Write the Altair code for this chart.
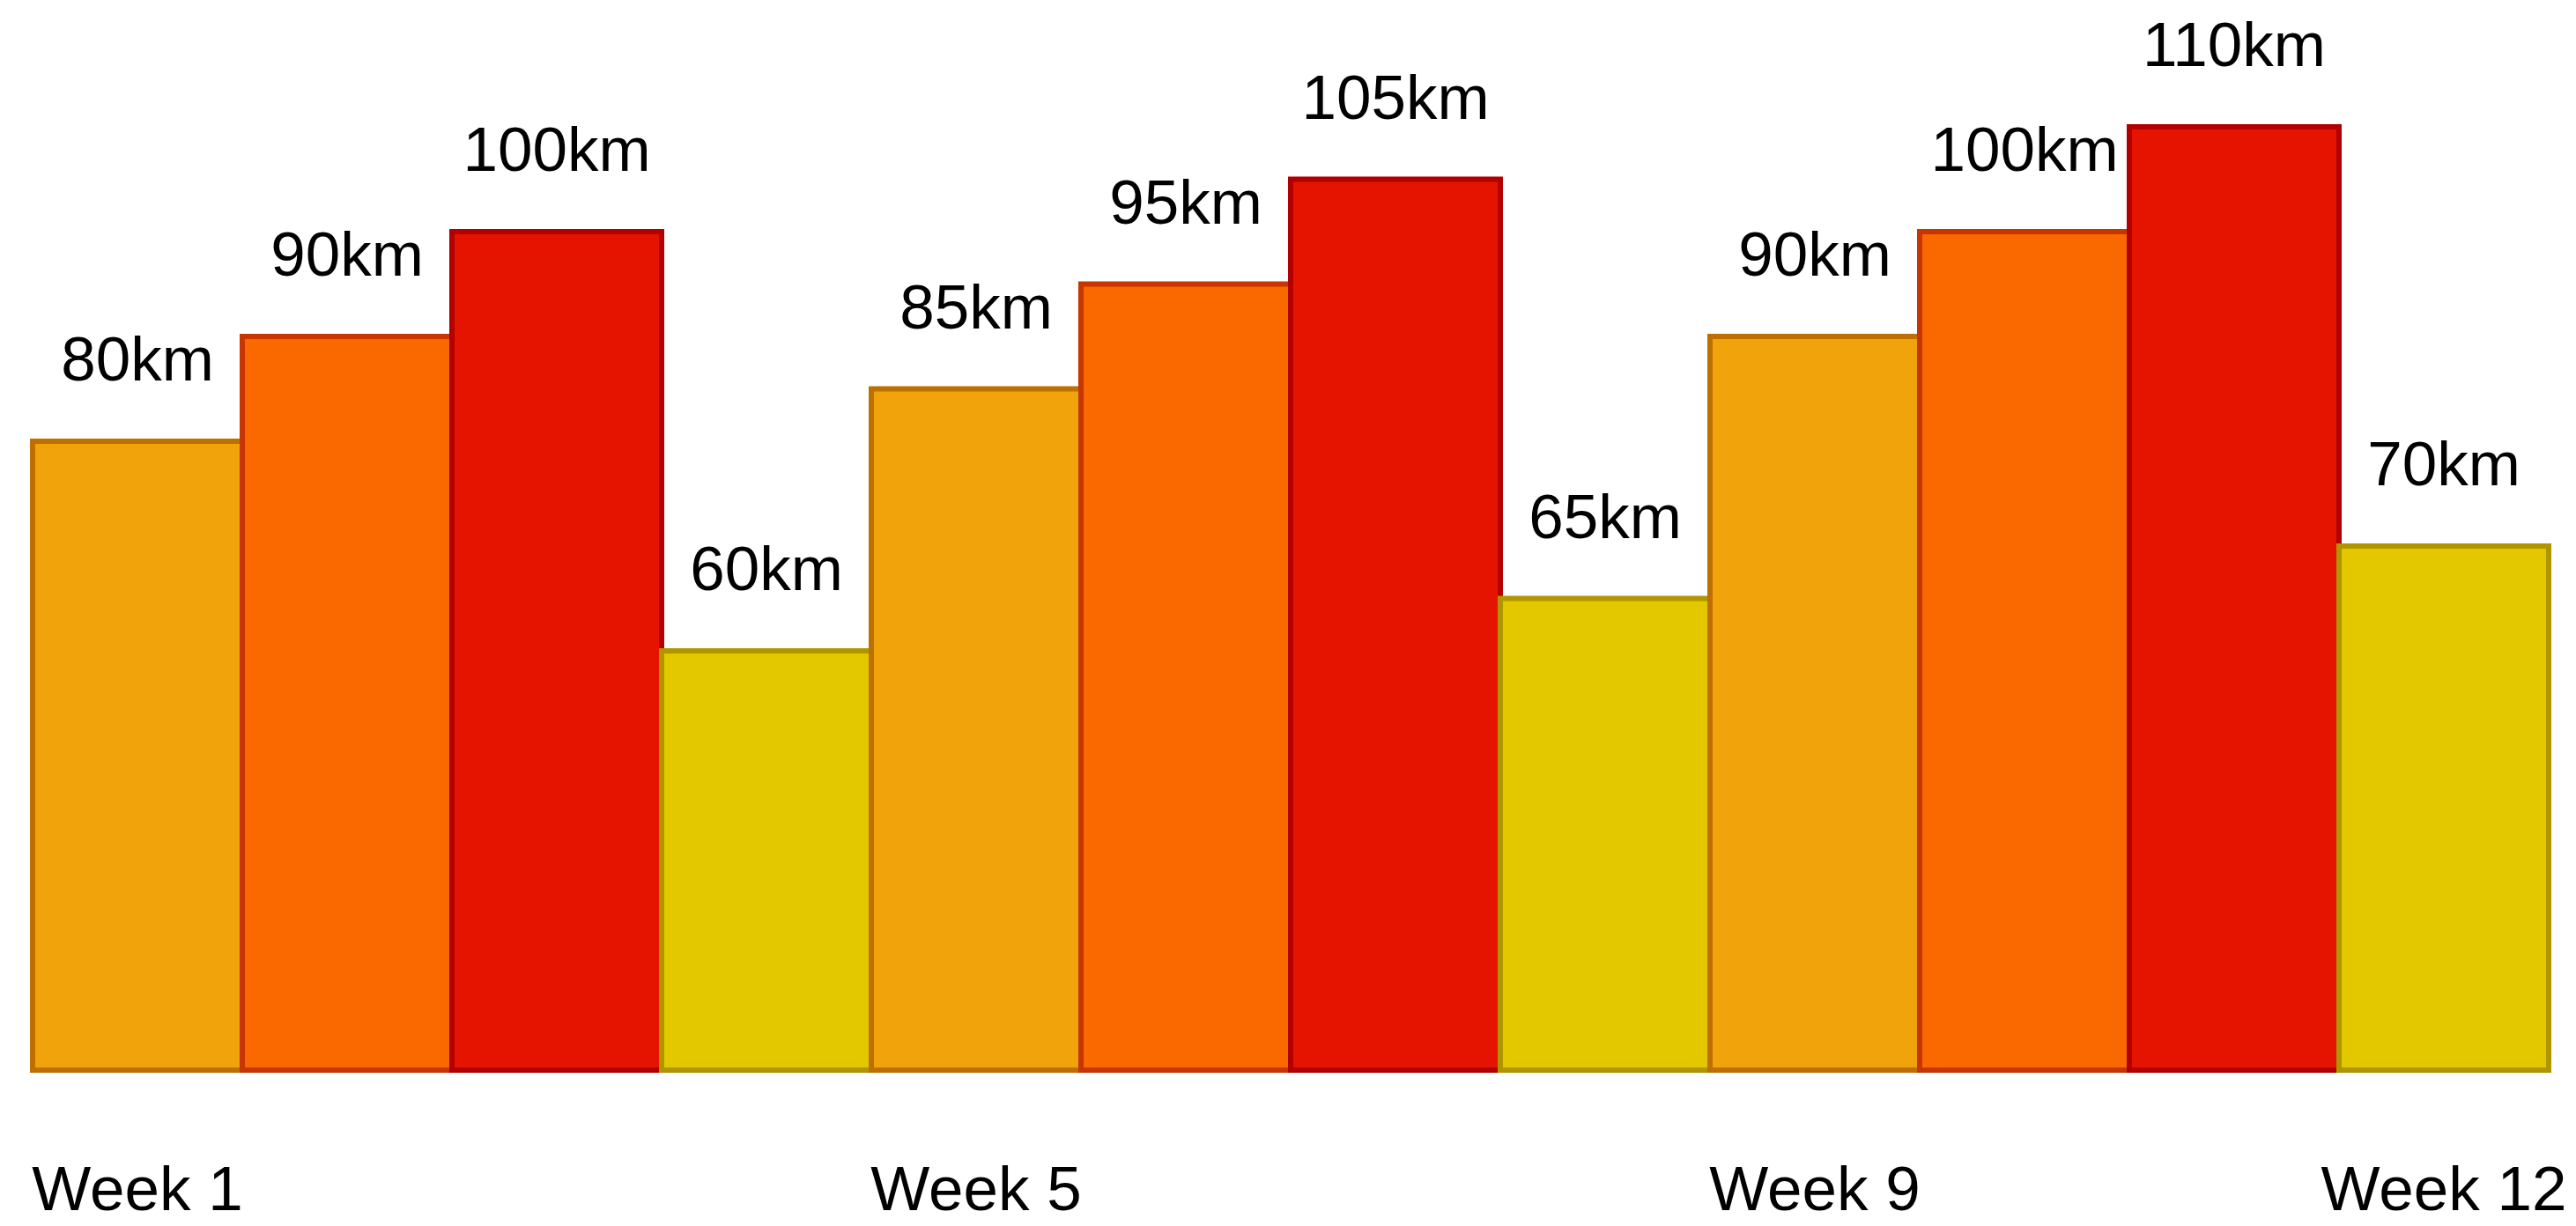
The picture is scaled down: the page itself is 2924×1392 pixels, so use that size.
import altair as alt
import pandas as pd

weeks = ["Week 1", "Week 2", "Week 3", "Week 4", "Week 5", "Week 6",
         "Week 7", "Week 8", "Week 9", "Week 10", "Week 11", "Week 12"]
distance_km = [80, 90, 100, 60, 85, 95, 105, 65, 90, 100, 110, 70]
phase = ["Build 1", "Build 2", "Peak", "Recovery"] * 3
shown_week_labels = ["Week 1", "Week 5", "Week 9", "Week 12"]

phase_names = ["Build 1", "Build 2", "Peak", "Recovery"]
fill_colors = ["#F0A30A", "#FA6800", "#E51400", "#E3C800"]
stroke_colors = ["#BD7000", "#C73500", "#B20000", "#B09500"]

df = pd.DataFrame({
    "week": weeks,
    "km": distance_km,
    "phase": phase,
    "label": [f"{v}km" for v in distance_km],
})

FONT = "Liberation Sans"

x = alt.X(
    "week:N",
    sort=weeks,
    scale=alt.Scale(paddingInner=0, paddingOuter=0),
    axis=alt.Axis(
        title=None,
        values=shown_week_labels,
        labelAngle=0,
        labelFont=FONT,
        labelFontSize=71,
        labelColor="#000000",
        labelPadding=102,
        labelLimit=0,
        labelOverlap=False,
        domain=False,
        ticks=False,
        grid=False,
    ),
)
y = alt.Y(
    "km:Q",
    scale=alt.Scale(domain=[20, 120], nice=False, zero=False, clamp=False),
    axis=None,
)

bars = alt.Chart(df).mark_bar(strokeWidth=6, clip=False).encode(
    x=x,
    y=y,
    y2=alt.datum(20),
    color=alt.Color("phase:N", scale=alt.Scale(domain=phase_names, range=fill_colors), legend=None),
    stroke=alt.Stroke("phase:N", scale=alt.Scale(domain=phase_names, range=stroke_colors), legend=None),
)

labels = alt.Chart(df).mark_text(
    font=FONT, fontSize=71, color="#000000", align="center",
    baseline="alphabetic", dy=-69,
).encode(
    x=x,
    y=y,
    text="label:N",
)

chart = (bars + labels).properties(
    width=2856,
    height=1190,
    padding={"left": 37, "top": 25, "right": 31, "bottom": 177},
    autosize=alt.AutoSizeParams(type="none"),
    background="#FFFFFF",
).configure_view(stroke=None)

chart.save("out.html", embed_options={"renderer": "svg", "actions": False})
